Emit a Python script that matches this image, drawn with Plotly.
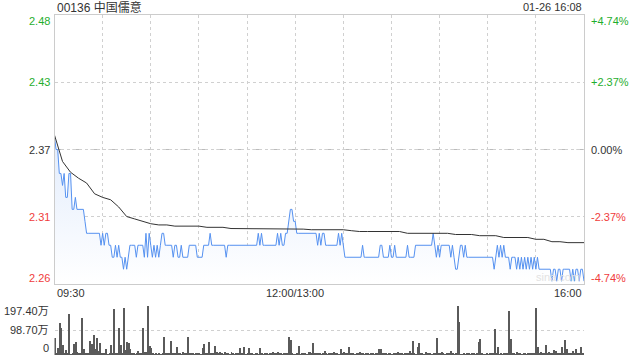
import plotly.graph_objects as go

# ---------------- data ----------------
title_text = "00136 中国儒意"
stamp_text = "01-26 16:08"
prev_close = 2.37
pct_ticks = [4.74, 2.37, 0.0, -2.37, -4.74]
price_tick_labels = ["2.48", "2.43", "2.37", "2.31", "2.26"]
pct_tick_labels = ["+4.74%", "+2.37%", "0.00%", "-2.37%", "-4.74%"]
time_tick_minutes = [0, 150, 330]
time_tick_labels = ["09:30", "12:00/13:00", "16:00"]
vol_ticks = [0, 98.70, 197.40]
vol_tick_labels = ["0", "98.70万", "197.40万"]

minutes = list(range(331))

price = [
    2.38, 2.37, 2.37, 2.35, 2.35, 2.34, 2.35, 2.33, 2.33, 2.35,
    2.35, 2.32, 2.32, 2.33, 2.32, 2.32, 2.32, 2.32, 2.32, 2.31,
    2.30, 2.30, 2.30, 2.30, 2.30, 2.30, 2.30, 2.30, 2.30, 2.29,
    2.30, 2.29, 2.30, 2.30, 2.29, 2.29, 2.28, 2.28, 2.29, 2.28,
    2.29, 2.28, 2.28, 2.27, 2.28, 2.27, 2.28, 2.29, 2.29, 2.29,
    2.29, 2.28, 2.29, 2.29, 2.29, 2.29, 2.28, 2.30, 2.28, 2.30,
    2.29, 2.28, 2.29, 2.28, 2.29, 2.28, 2.29, 2.30, 2.30, 2.29,
    2.29, 2.29, 2.29, 2.29, 2.28, 2.29, 2.29, 2.28, 2.28, 2.29,
    2.28, 2.28, 2.28, 2.28, 2.29, 2.29, 2.29, 2.29, 2.29, 2.28,
    2.28, 2.28, 2.28, 2.29, 2.29, 2.29, 2.29, 2.30, 2.29, 2.29,
    2.29, 2.29, 2.29, 2.29, 2.29, 2.29, 2.29, 2.28, 2.29, 2.29,
    2.29, 2.29, 2.29, 2.29, 2.29, 2.29, 2.29, 2.29, 2.29, 2.29,
    2.29, 2.29, 2.29, 2.29, 2.29, 2.29, 2.29, 2.30, 2.29, 2.30,
    2.29, 2.29, 2.29, 2.29, 2.29, 2.29, 2.29, 2.29, 2.29, 2.30,
    2.29, 2.30, 2.29, 2.29, 2.30, 2.30, 2.31, 2.32, 2.32, 2.31,
    2.31, 2.30, 2.30, 2.30, 2.30, 2.30, 2.30, 2.30, 2.30, 2.30,
    2.30, 2.30, 2.30, 2.30, 2.29, 2.30, 2.29, 2.30, 2.30, 2.29,
    2.29, 2.29, 2.29, 2.29, 2.29, 2.29, 2.29, 2.30, 2.29, 2.30,
    2.29, 2.28, 2.28, 2.28, 2.28, 2.28, 2.28, 2.28, 2.28, 2.28,
    2.28, 2.28, 2.29, 2.28, 2.28, 2.28, 2.28, 2.28, 2.28, 2.28,
    2.28, 2.28, 2.28, 2.29, 2.29, 2.28, 2.28, 2.28, 2.28, 2.29,
    2.28, 2.28, 2.29, 2.28, 2.28, 2.28, 2.28, 2.28, 2.28, 2.28,
    2.29, 2.28, 2.28, 2.28, 2.28, 2.29, 2.29, 2.29, 2.29, 2.29,
    2.29, 2.29, 2.29, 2.29, 2.29, 2.29, 2.30, 2.29, 2.28, 2.29,
    2.28, 2.29, 2.29, 2.29, 2.29, 2.29, 2.29, 2.28, 2.29, 2.28,
    2.27, 2.27, 2.28, 2.29, 2.29, 2.28, 2.29, 2.28, 2.28, 2.28,
    2.28, 2.28, 2.28, 2.28, 2.28, 2.28, 2.28, 2.28, 2.28, 2.28,
    2.28, 2.28, 2.28, 2.28, 2.27, 2.28, 2.29, 2.28, 2.29, 2.28,
    2.29, 2.28, 2.28, 2.28, 2.27, 2.28, 2.28, 2.28, 2.27, 2.28,
    2.27, 2.28, 2.27, 2.28, 2.27, 2.28, 2.27, 2.28, 2.27, 2.28,
    2.27, 2.28, 2.27, 2.27, 2.27, 2.27, 2.27, 2.27, 2.27, 2.27,
    2.26, 2.27, 2.27, 2.26, 2.27, 2.27, 2.26, 2.27, 2.27, 2.27,
    2.27, 2.27, 2.26, 2.27, 2.26, 2.27, 2.27, 2.26, 2.27, 2.27, 2.26,
]

avg_minutes = list(range(0, 331, 5))
avg_price = [
    2.382, 2.360, 2.351, 2.346, 2.342, 2.333, 2.330, 2.328, 2.322, 2.314,
    2.312, 2.310, 2.308, 2.307, 2.307, 2.306, 2.306, 2.306, 2.306, 2.305,
    2.305, 2.305, 2.304, 2.304, 2.304, 2.304, 2.304, 2.304, 2.304, 2.304,
    2.3035, 2.3035, 2.303, 2.303, 2.303, 2.303, 2.303, 2.3022, 2.3015, 2.3015,
    2.3015, 2.3015, 2.3015, 2.3015, 2.300, 2.300, 2.300, 2.300, 2.300, 2.300,
    2.299, 2.299, 2.299, 2.298, 2.298, 2.298, 2.2965, 2.2965, 2.2965, 2.2965,
    2.295, 2.295, 2.293, 2.293, 2.2922, 2.2922, 2.2922,
]

volume = [
    66, 8, 29, 125, 108, 39, 5, 20, 4, 160,
    3, 6, 42, 50, 10, 9, 4, 145, 22, 5,
    6, 4, 55, 42, 79, 24, 66, 16, 46, 5,
    8, 4, 22, 3, 6, 39, 4, 180, 9, 5,
    108, 39, 6, 187, 20, 50, 46, 22, 8, 4,
    3, 5, 16, 9, 4, 108, 13, 10, 195, 37,
    26, 5, 3, 4, 3, 4, 3, 5, 72, 6,
    4, 9, 57, 5, 6, 4, 30, 5, 4, 3,
    13, 4, 5, 72, 6, 4, 5, 3, 6, 4,
    5, 3, 26, 43, 6, 4, 51, 5, 6, 4,
    36, 13, 5, 10, 4, 3, 10, 4, 5, 3,
    10, 4, 3, 5, 4, 26, 5, 4, 33, 3,
    5, 29, 4, 6, 3, 5, 4, 3, 26, 5,
    3, 6, 4, 3, 5, 4, 10, 5, 6, 13,
    4, 5, 3, 6, 4, 5, 72, 59, 4, 3,
    2, 4, 37, 3, 5, 4, 6, 3, 13, 10,
    4, 46, 5, 6, 5, 4, 3, 5, 17, 4,
    3, 6, 4, 5, 13, 4, 6, 3, 22, 5,
    13, 4, 5, 33, 6, 4, 5, 3, 4, 6,
    13, 4, 5, 3, 6, 4, 3, 5, 4, 3,
    4, 5, 22, 22, 6, 4, 5, 3, 4, 6,
    3, 5, 4, 6, 13, 4, 5, 3, 6, 4,
    5, 17, 4, 55, 6, 3, 30, 46, 4, 5,
    3, 13, 4, 5, 6, 3, 4, 5, 66, 4,
    5, 13, 4, 3, 6, 5, 4, 17, 8, 3,
    4, 195, 129, 3, 2, 4, 3, 5, 4, 3,
    4, 5, 3, 6, 50, 62, 4, 3, 2, 5,
    3, 4, 6, 4, 101, 5, 30, 3, 4, 2,
    5, 4, 6, 174, 62, 4, 5, 3, 10, 4,
    6, 3, 5, 4, 3, 4, 6, 5, 4, 6,
    184, 30, 6, 10, 4, 5, 39, 4, 13, 5,
    6, 20, 16, 4, 5, 6, 30, 8, 59, 24,
    5, 4, 6, 16, 5, 24, 4, 6, 30, 8, 187,
]

# ---------------- styling ----------------
W, H = 640, 360
FONT = "Arial, 'Liberation Sans', 'Noto Sans CJK SC', sans-serif"
GREEN = "#1fae2e"
RED = "#f03c3c"
TXT = "#333333"
GRID = "#d0d0d0"
BORDER = "#cccccc"

px_left, px_right = 54.5, 584
main_top, main_bot = 15, 284
vol_top, vol_bot = 305, 355

tick_vals = [prev_close * (1 + p / 100) for p in pct_ticks]
y_lo, y_hi = min(tick_vals), max(tick_vals)

fig = go.Figure()

fig.add_trace(go.Scatter(
    x=minutes, y=price, mode="lines",
    line=dict(color="#5591f0", width=1),
    fill="tozeroy",
    fillgradient=dict(type="vertical",
                      colorscale=[[0, "rgba(255,255,255,1)"], [1, "rgba(226,236,252,1)"]],
                      start=y_lo, stop=2.38),
    xaxis="x", yaxis="y", hoverinfo="skip", showlegend=False,
))
fig.add_trace(go.Scatter(
    x=avg_minutes, y=avg_price, mode="lines",
    line=dict(color="#333333", width=1),
    xaxis="x", yaxis="y", hoverinfo="skip", showlegend=False,
))
fig.add_trace(go.Bar(
    x=minutes, y=volume, width=0.62,
    marker=dict(color="#5a5a5a", line=dict(width=0)),
    xaxis="x2", yaxis="y2", hoverinfo="skip", showlegend=False,
))

xdom = [px_left / W, px_right / W]
fig.update_layout(
    width=W, height=H, margin=dict(l=0, r=0, t=0, b=0),
    paper_bgcolor="white", plot_bgcolor="white",
    font=dict(family=FONT, size=11, color=TXT),
    bargap=0,
    xaxis=dict(domain=xdom, range=[0, 330], anchor="y",
               tickvals=list(range(0, 331, 30)), showticklabels=False,
               showgrid=True, gridcolor=GRID, griddash="dot", gridwidth=1,
               showline=True, linecolor=BORDER, linewidth=1, mirror=True,
               zeroline=False, ticks=""),
    yaxis=dict(domain=[1 - main_bot / H, 1 - main_top / H], range=[y_lo, y_hi],
               tickvals=tick_vals, showticklabels=False,
               showgrid=True, gridcolor=GRID, griddash="dot", gridwidth=1,
               showline=True, linecolor=BORDER, linewidth=1, mirror=True,
               zeroline=False, ticks=""),
    xaxis2=dict(domain=xdom, range=[0, 330], anchor="y2",
                showticklabels=False, showgrid=False, showline=False,
                zeroline=False, ticks=""),
    yaxis2=dict(domain=[1 - vol_bot / H, 1 - vol_top / H], range=[0, 197.4],
                tickvals=vol_ticks[1:], showticklabels=False,
                showgrid=True, gridcolor=GRID, griddash="dot", gridwidth=1,
                showline=False, zeroline=False, ticks="", anchor="x2"),
)

# dashed previous-close line
fig.add_shape(type="line", xref="x", yref="y", x0=0, x1=330,
              y0=prev_close, y1=prev_close,
              line=dict(color="#bbbbbb", width=1, dash="dash"), layer="below")

ann = []
def col(p):
    return GREEN if p > 0 else (RED if p < 0 else TXT)

n = len(tick_vals)
for i, (v, p, lab, plab) in enumerate(zip(tick_vals, pct_ticks, price_tick_labels, pct_tick_labels)):
    shift = -6 if i == 0 else (6 if i == n - 1 else 0)
    ann.append(dict(xref="paper", yref="y", x=52 / W, y=v, text=lab,
                    xanchor="right", yanchor="middle", yshift=shift,
                    showarrow=False, font=dict(size=11, color=col(p))))
    ann.append(dict(xref="paper", yref="y", x=589 / W, y=v, text=plab,
                    xanchor="left", yanchor="middle", yshift=shift,
                    showarrow=False, font=dict(size=11, color=col(p))))

anchors = ["left", "center", "right"]
for m, lab, a in zip(time_tick_minutes, time_tick_labels, anchors):
    ann.append(dict(xref="x", yref="paper", x=m, y=1 - 293 / H, text=lab,
                    xanchor=a, yanchor="middle", showarrow=False,
                    font=dict(size=11, color=TXT)))

for i, (v, lab) in enumerate(zip(vol_ticks, vol_tick_labels)):
    shift = 7 if i == 0 else (-6 if i == len(vol_ticks) - 1 else 0)
    ann.append(dict(xref="paper", yref="y2", x=51 / W, y=v, text=lab,
                    xanchor="right", yanchor="middle", yshift=shift,
                    showarrow=False, font=dict(size=11, color=TXT)))

ann.append(dict(xref="paper", yref="paper", x=55 / W, y=1 - 7 / H, text=title_text,
                xanchor="left", yanchor="middle", showarrow=False,
                font=dict(size=12, color=TXT)))
ann.append(dict(xref="paper", yref="paper", x=584 / W, y=1 - 7 / H, text=stamp_text,
                xanchor="right", yanchor="middle", showarrow=False,
                font=dict(size=11, color=TXT)))
ann.append(dict(xref="paper", yref="paper", x=582 / W, y=1 - 277 / H, text="sina.com",
                xanchor="right", yanchor="middle", showarrow=False,
                font=dict(size=11, color="#e2e2e2")))

fig.update_layout(annotations=ann)
fig.write_html("out.html")
